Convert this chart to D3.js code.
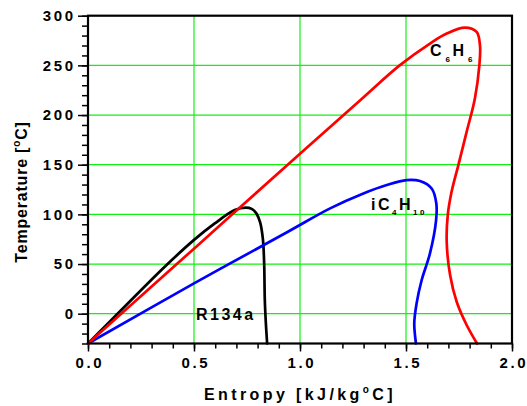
<!DOCTYPE html>
<html><head><meta charset="utf-8">
<script src="https://cdn.jsdelivr.net/npm/d3@7"></script>
<style>
body{margin:0;background:#fff}
svg text{font-family:"Liberation Sans",Arial,sans-serif;font-weight:bold;fill:#000}
</style>
</head><body><svg id="c" width="527" height="406"></svg>
<script>
// ---- data ----
const xTicks = [0, 0.5, 1.0, 1.5, 2.0];
const xTickLabels = ["0.0", "0.5", "1.0", "1.5", "2.0"];
const yTicks = [0, 50, 100, 150, 200, 250, 300];
const yTickLabels = ["0", "50", "100", "150", "200", "250", "300"];

const r134aS = [0, 0.157, 0.362, 0.503, 0.598, 0.692, 0.745, 0.772, 0.794, 0.812, 0.825, 0.831, 0.834, 0.839, 0.845];
const r134aT = [-30, 3.7, 47.3, 74.8, 90.9, 104.3, 106.8, 105.5, 101, 92, 75, 50, 13.8, -9.7, -30];

const ic4h10S = [0, 0.5, 0.943, 1.142, 1.299, 1.409, 1.503, 1.566, 1.621, 1.643, 1.642, 1.613, 1.574, 1.550, 1.539, 1.547];
const ic4h10T = [-30, 30.5, 82.5, 106, 121, 129.5, 134.5, 133.5, 126, 111, 94.2, 60.7, 33.9, 10.4, -9.7, -30];

const c6h6S = [0, 0.5, 1.0, 1.3, 1.47, 1.613, 1.692, 1.778, 1.833, 1.849, 1.846, 1.825, 1.786, 1.747, 1.715, 1.697, 1.692, 1.708, 1.739, 1.786, 1.835];
const c6h6T = [-30, 65.5, 161, 218, 250, 272, 282, 288, 283.7, 270, 250, 216.7, 183, 149.6, 122.7, 99.3, 72.4, 38.9, 12, -11.4, -30];

const seriesNames = ["R134a", "iC4H10", "C6H6"];
const seriesColors = ["#000000", "#0000ff", "#ff0000"];

// ---- chart ----
const svg = d3.select("#c");
const L = 88, R = 512, T = 15.7, B = 343.5;
const x = d3.scaleLinear().domain([0, 2]).range([L, R]);
const y = d3.scaleLinear().domain([-30, 300]).range([B, T]);

// grid
const grid = svg.append("g").attr("stroke", "#11f011").attr("stroke-width", 1.2);
grid.selectAll("line.v").data(xTicks.filter(d => d > 0 && d < 2)).join("line")
  .attr("x1", d => x(d)).attr("x2", d => x(d)).attr("y1", T).attr("y2", B);
grid.selectAll("line.h").data(yTicks.filter(d => d < 300)).join("line")
  .attr("x1", L).attr("x2", R).attr("y1", d => y(d)).attr("y2", d => y(d));

// minor ticks
const xMinor = d3.range(0, 2.0001, 0.1);
const yMinor = d3.range(-30, 300.001, 10);

const xAxisMinor = svg.append("g").attr("transform", `translate(0,${B})`)
  .call(d3.axisBottom(x).tickValues(xMinor).tickSize(5).tickFormat(""));
const xAxis = svg.append("g").attr("transform", `translate(0,${B})`)
  .call(d3.axisBottom(x).tickValues(xTicks).tickSize(8).tickPadding(5.5)
    .tickFormat((d, i) => xTickLabels[i]));
const yAxisMinor = svg.append("g").attr("transform", `translate(${L},0)`)
  .call(d3.axisLeft(y).tickValues(yMinor).tickSize(6).tickFormat(""));
const yAxis = svg.append("g").attr("transform", `translate(${L},0)`)
  .call(d3.axisLeft(y).tickValues(yTicks).tickSize(10).tickPadding(5)
    .tickFormat((d, i) => yTickLabels[i]));

[xAxisMinor, xAxis, yAxisMinor, yAxis].forEach(g => {
  g.select(".domain").remove();
  g.selectAll(".tick line").attr("stroke", "#000").attr("stroke-width", 1.5);
  g.selectAll("text").attr("font-size", 15).attr("font-family", null)
    .style("letter-spacing", "2.6px").attr("fill", "#000");
});
xAxis.selectAll("text").attr("dx", "1.3px");
yAxis.selectAll("text").attr("dx", "2.6px");

// curves
const line = d3.line().x(d => x(d[0])).y(d => y(d[1])).curve(d3.curveCatmullRom.alpha(0.5));
const seriesData = [
  d3.zip(r134aS, r134aT),
  d3.zip(ic4h10S, ic4h10T),
  d3.zip(c6h6S, c6h6T)
];
svg.append("g").selectAll("path").data(seriesData).join("path")
  .attr("d", line).attr("fill", "none")
  .attr("stroke", (d, i) => seriesColors[i]).attr("stroke-width", 2.7)
  .attr("stroke-linejoin", "round").attr("stroke-linecap", "round");

// frame
svg.append("rect").attr("x", L).attr("y", T).attr("width", R - L).attr("height", B - T)
  .attr("fill", "none").attr("stroke", "#000").attr("stroke-width", 2.2);

// curve labels
const lab = svg.append("g").attr("font-size", 16).style("letter-spacing", "2.5px");
lab.append("text").attr("x", 196).attr("y", 320).text("R134a");

const t2 = lab.append("text").attr("x", 371).attr("y", 209.5);
t2.append("tspan").text("iC");
t2.append("tspan").attr("font-size", 8).attr("dy", 5.5).text("4");
t2.append("tspan").attr("dy", -5.5).text("H");
t2.append("tspan").attr("font-size", 8).attr("dy", 5.5).text("10");

const t3 = lab.append("text").attr("x", 430).attr("y", 56);
t3.append("tspan").text("C");
t3.append("tspan").attr("font-size", 8).attr("dy", 6).attr("dx", 1.5).text("6");
t3.append("tspan").attr("dy", -6).text("H");
t3.append("tspan").attr("font-size", 8).attr("dy", 6).attr("dx", 1.5).text("6");

// axis titles
const xt = svg.append("text").attr("x", 204).attr("y", 400).attr("font-size", 16)
  .style("letter-spacing", "3.4px");
xt.append("tspan").text("Entropy [kJ/kg");
xt.append("tspan").attr("font-size", 10).attr("dy", -7).text("o");
xt.append("tspan").attr("dy", 7).text("C]");

const yt = svg.append("text").attr("transform", "translate(27,192) rotate(-90)")
  .attr("text-anchor", "middle").attr("font-size", 16).style("letter-spacing", "0.8px");
yt.append("tspan").text("Temperature [");
yt.append("tspan").attr("font-size", 10).attr("dy", -7).text("o");
yt.append("tspan").attr("dy", 7).text("C]");
</script>
</body></html>
